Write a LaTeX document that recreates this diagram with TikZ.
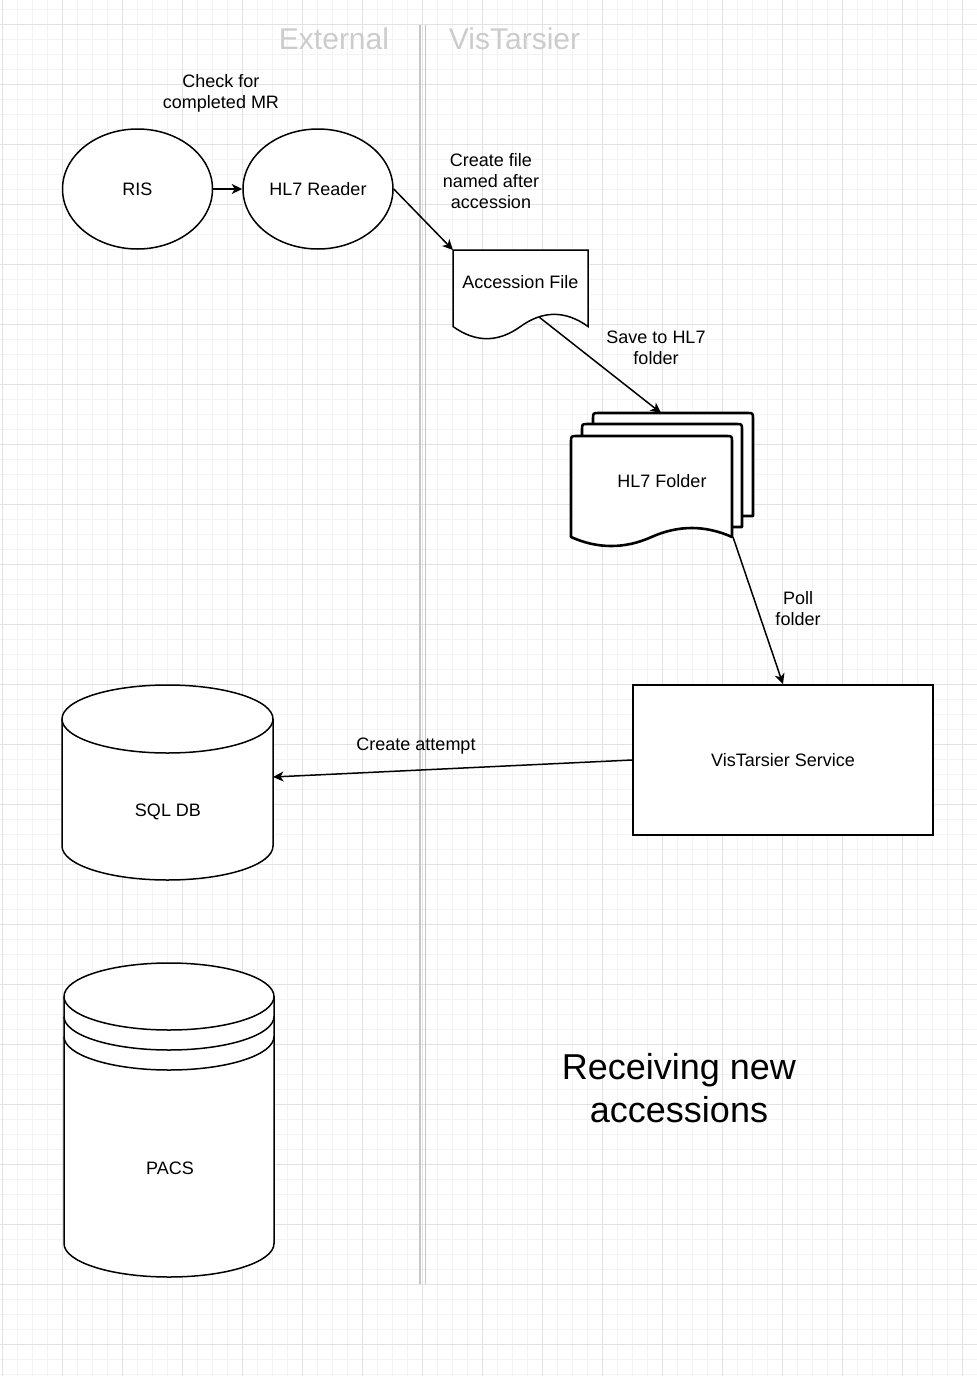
\documentclass[tikz,border=0pt]{standalone}
\usepackage{fontspec}
\setmainfont{Liberation Sans}
\usetikzlibrary{shapes.geometric,arrows.meta}
\definecolor{minorgrid}{HTML}{F3F3F3}
\definecolor{majorgrid}{HTML}{E2E2E2}
\definecolor{headergray}{HTML}{CCCCCC}
\definecolor{dividergray}{HTML}{C6C6C6}

\begin{document}
\begin{tikzpicture}[x=1pt,y=-1pt,
  lbl/.style={font=\fontsize{18}{21}\selectfont, align=center, inner sep=0pt},
  hdr/.style={font=\fontsize{30}{36}\selectfont, text=headergray, inner sep=0pt},
  oval/.style={ellipse, draw, fill=white, line width=1.5pt, minimum width=150pt,
    minimum height=120pt, inner sep=0pt, font=\fontsize{18}{21}\selectfont},
  box/.style={rectangle, draw, fill=white, line width=1.5pt, minimum width=300pt,
    minimum height=150pt, inner sep=0pt, font=\fontsize{18}{21}\selectfont},
  part/.style={draw, fill=white, line width=1.5pt},
  folderpage/.style={draw, fill=white, line width=2.6pt, line join=round},
  arr/.style={-{Stealth[length=10.5pt,width=10pt,inset=3pt]}, line width=1.5pt}]

  % Grid
  \useasboundingbox (0,0) rectangle (977,1376);
  \fill[white] (0,0) rectangle (977,1376);
  \foreach \x in {2,17,...,977} \draw[minorgrid, line width=1pt] (\x,0) -- (\x,1376);
  \foreach \y in {9,24,...,1376} \draw[minorgrid, line width=1pt] (0,\y) -- (977,\y);
  \foreach \x in {2,62,...,962} \draw[majorgrid, line width=1pt] (\x,0) -- (\x,1376);
  \foreach \y in {24,84,...,1344} \draw[majorgrid, line width=1pt] (0,\y) -- (977,\y);

  % Divider
  \draw[dividergray, line width=1.2pt] (420,25) -- (420,1284);
  \draw[dividergray, line width=1.2pt] (425.5,25) -- (425.5,1284);
  \node[hdr] (external) at (334,39) {External};
  \node[hdr] (vistarsier) at (514.5,39) {VisTarsier};

  % Accession file
  \filldraw[part] (453,250) -- (588,250) -- (588,326.5)
    .. controls (565.5,310.3) and (543,310.3) .. (520.5,326.5)
    .. controls (498,342.7) and (475.5,342.7) .. (453,326.5) -- cycle;
  \coordinate (acctop) at (453,250);
  \coordinate (accout) at (539,317);
  \node[lbl] (acc) at (520.5,282.5) {Accession File};

  % HL7 folder pages
  \filldraw[folderpage] (742,516) -- (753,516) -- (753,419) .. controls (753,413) .. (747,413)
    -- (599,413) .. controls (593,413) .. (593,419) -- (593,424);
  \filldraw[folderpage] (732,527) -- (742,527) -- (742,430) .. controls (742,424) .. (736,424)
    -- (588,424) .. controls (582,424) .. (582,430) -- (582,436);
  \filldraw[folderpage] (571,537) -- (571,442) .. controls (571,436) .. (577,436)
    -- (726,436) .. controls (732,436) .. (732,442) -- (732,537)
    .. controls (705.2,525) and (678.3,525) .. (651.5,537)
    .. controls (624.7,549) and (597.8,549) .. (571,537) -- cycle;
  \coordinate (foldtop) at (661,413);
  \coordinate (foldout) at (733,537);
  \node[lbl] (folder) at (662,481) {HL7 Folder};

  % SQL DB
  \filldraw[part] (62,719) -- (62,846) arc[start angle=180, end angle=0, x radius=105.5, y radius=34]
    -- (273,719) arc[start angle=0, end angle=-180, x radius=105.5, y radius=34] -- cycle;
  \draw[line width=1.5pt] (62,719) arc[start angle=180, end angle=0, x radius=105.5, y radius=34];
  \coordinate (sqlin) at (273,777);
  \node[lbl] (sql) at (168,811.5) {SQL DB};

  % PACS
  \filldraw[part] (64,996.5) -- (64,1243.5) arc[start angle=180, end angle=0, x radius=105, y radius=33.5]
    -- (274,996.5) arc[start angle=0, end angle=-180, x radius=105, y radius=33.5] -- cycle;
  \foreach \dy in {0,20,40}
    \draw[line width=1.5pt] (64,996.5+\dy) arc[start angle=180, end angle=0, x radius=105, y radius=33.5];
  \node[lbl] (pacs) at (170,1168) {PACS};

  % Nodes
  \node[oval] (ris) at (137.5,189) {RIS};
  \node[oval] (reader) at (318,189) {HL7 Reader};
  \node[box] (service) at (783,760) {VisTarsier Service};

  % Connectors
  \draw[arr] (ris) -- (reader);
  \draw[arr] (reader.east) -- (acctop);
  \draw[arr] (accout) -- (foldtop);
  \draw[arr] (foldout) -- (service.north);
  \draw[arr] (service.west) -- (sqlin);

  % Labels
  \node[lbl] (check) at (221,93.5) {Check for\\completed MR};
  \node[lbl] (create) at (491,181.5) {Create file\\named after\\accession};
  \node[lbl] (save) at (656,347.5) {Save to HL7\\folder};
  \node[lbl] (poll) at (798,609) {Poll\\folder};
  \node[lbl] (attempt) at (416,746.5) {Create attempt};

  % Title
  \node[font=\fontsize{36}{43}\selectfont, align=center, inner sep=0pt] (title)
    at (679,1088) {Receiving new\\accessions};

\end{tikzpicture}
\end{document}
